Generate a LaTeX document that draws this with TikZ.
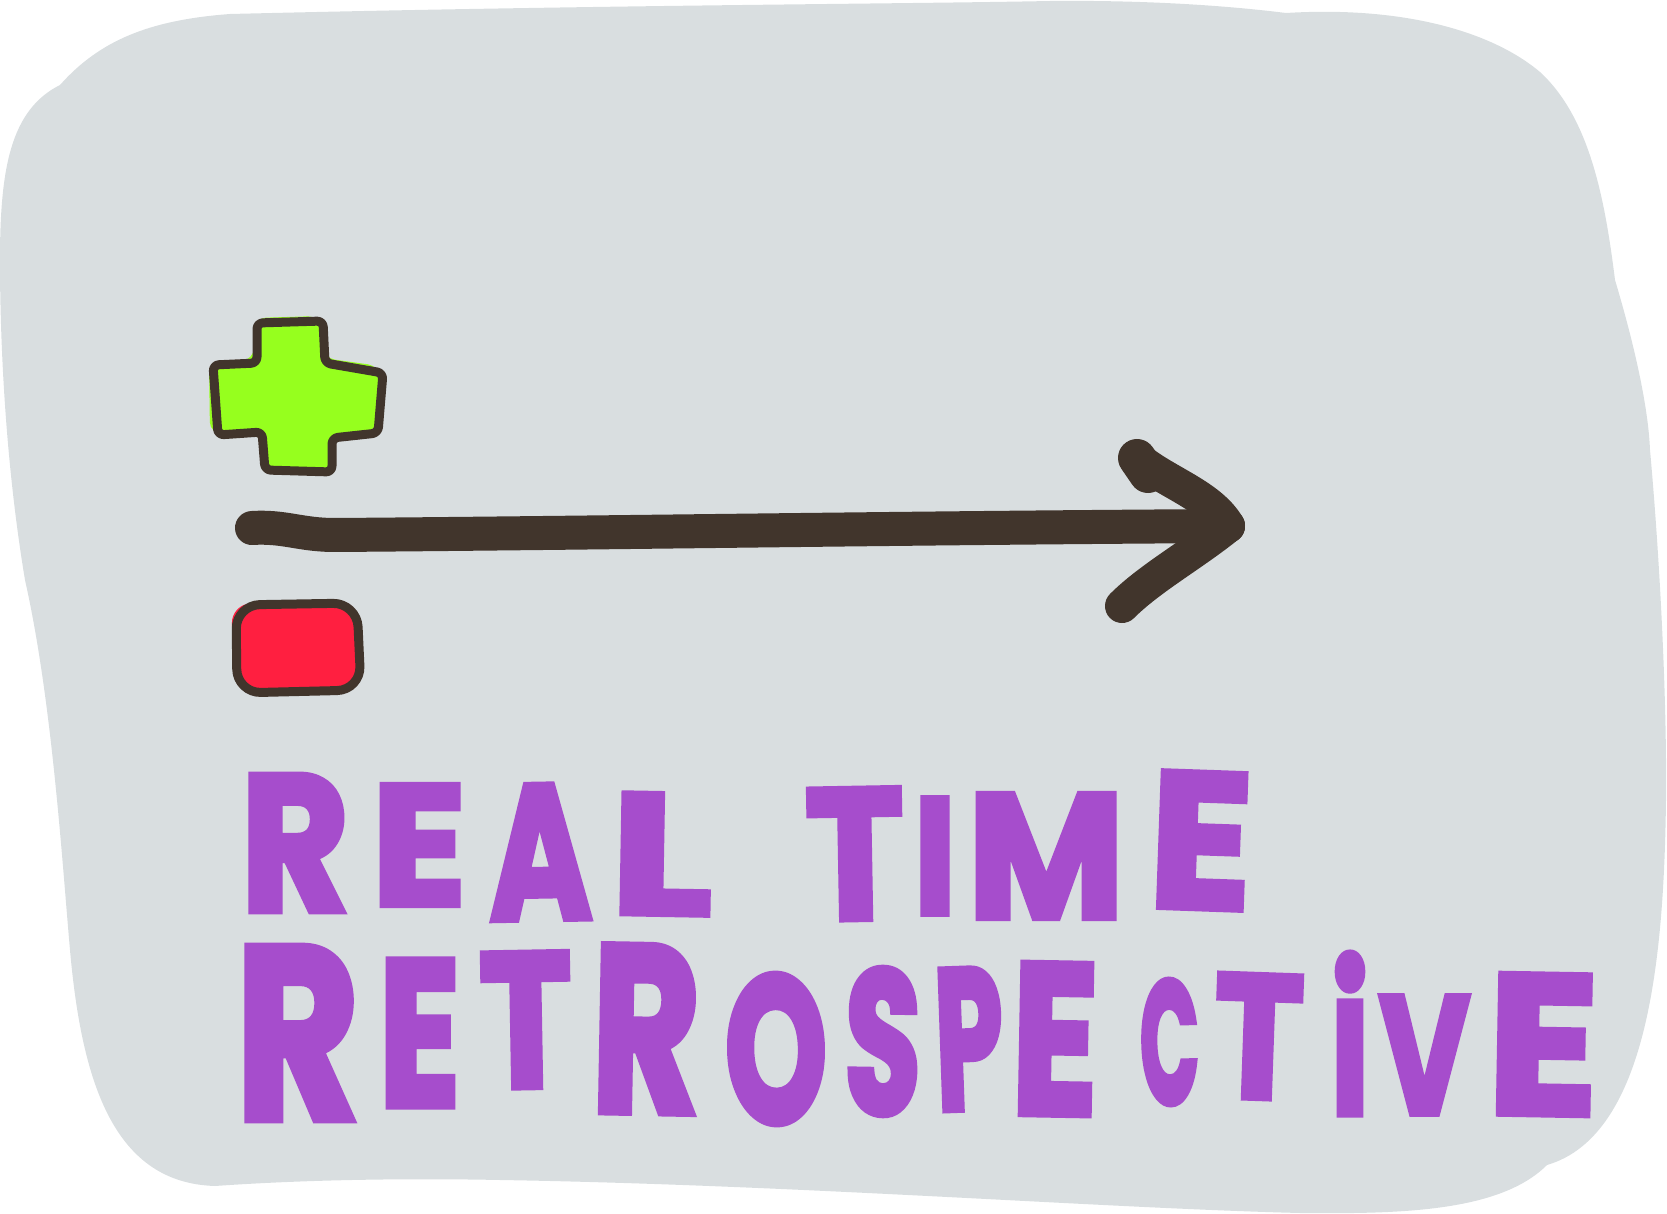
\documentclass[tikz,border=0pt]{standalone}
\usepackage{fontspec}
\newfontfamily\handfont{Poppins}[BoldFeatures={FakeBold=3.5}]
\usepackage{graphicx}
\definecolor{bgblob}{HTML}{D9DEE0}
\definecolor{plusgreen}{HTML}{96FF1E}
\definecolor{minusred}{HTML}{FF1F40}
\definecolor{inkdark}{HTML}{41352C}
\definecolor{txtpurple}{HTML}{A64DCC}
\newlength\upx
\setlength\upx{0.5pt}
\newcommand\Ltr[7]{\node[ltr,rotate=#7] (#1) at (#2+#4/2,#3+#5/2) {\resizebox{#4\upx}{#5\upx}{\handfont\bfseries #6}};}
\tikzset{
  ltr/.style={inner sep=0pt,outer sep=0pt,anchor=center,text=txtpurple},
  outline/.style={draw=inkdark,line width=4.5pt,line join=round,rounded corners=3pt},
  stroke/.style={draw=inkdark,line width=17pt,line cap=round,line join=round},
}
\begin{document}
\begin{tikzpicture}[x=0.5pt,y=-0.5pt]
\useasboundingbox (0,0) rectangle (1667,1214);
% background blob
\fill[bgblob] (60,85) .. controls (100,40) and (150,20) .. (230,14)
  .. controls (600,5) and (900,4) .. (1050,1)
  .. controls (1150,0) and (1230,6) .. (1286,13)
  .. controls (1400,6) and (1490,30) .. (1540,72)
  .. controls (1590,118) and (1605,200) .. (1615,280)
  .. controls (1630,330) and (1648,400) .. (1650,450)
  .. controls (1660,560) and (1667,700) .. (1666,800)
  .. controls (1664,950) and (1650,1135) .. (1547,1165)
  .. controls (1500,1212) and (1400,1214) .. (1300,1213)
  .. controls (1100,1208) and (800,1185) .. (500,1180)
  .. controls (400,1178) and (300,1180) .. (215,1186)
  .. controls (115,1183) and (82,1085) .. (70,950)
  .. controls (62,860) and (52,700) .. (25,580)
  .. controls (5,460) and (0,340) .. (0,260)
  .. controls (0,170) and (10,110) .. (60,85) -- cycle;
% plus sign
\fill[plusgreen,rounded corners=6pt] (254,318) -- (320,316) -- (323,358) -- (380,366)
  -- (378,430) -- (330,436) -- (330,472) -- (262,472) -- (260,432) -- (210,434)
  -- (209,362) -- (254,360) -- cycle;
\draw[outline] (257,323) -- (323,321) -- (325,363) -- (383,373) -- (378,433)
  -- (332,438) -- (332,472) -- (265,470) -- (262,432) -- (218,435) -- (213,365)
  -- (257,363) -- cycle;
% minus (red box)
\fill[minusred,rounded corners=10pt] (231,604) -- (357,600) -- (362,690) -- (235,694) -- cycle;
\draw[outline,rounded corners=12pt] (236,605) -- (357,603) -- (361,690) -- (237,693) -- cycle;
% arrow
\coordinate (aStart) at (252,528);
\coordinate (aTip) at (1228,526);
\coordinate (hUp) at (1137,458);
\coordinate (hLow) at (1122,606);
\draw[stroke] (aStart) .. controls (285,526) and (300,535) .. (335,535)
  .. controls (600,533) and (900,528) .. (aTip);
\draw[stroke] (hUp) .. controls (1165,482) and (1210,495) .. (aTip);
\draw[stroke,line width=19pt] (hUp) -- (1148,474);
\draw[stroke] (hLow) .. controls (1150,578) and (1192,555) .. (aTip);
% REAL TIME
\Ltr{r1}{241}{775}{108}{136}{R}{0}
\Ltr{e1}{372}{785}{94}{120}{E}{0}
\Ltr{a1}{489}{785}{102}{134}{A}{1}
\Ltr{l1}{611}{794}{101}{120}{L}{-1}
\Ltr{t1}{806}{789}{98}{130}{T}{1}
\Ltr{i1}{914}{798}{42}{116}{I}{0}
\Ltr{m1}{968}{794}{156}{124}{M}{0}
\Ltr{e2}{1150}{773}{102}{135}{E}{-2}
% RETROSPECTIVE
\Ltr{r2}{236}{947}{123}{172}{R}{0}
\Ltr{e3}{379}{960}{81}{146}{E}{0}
\Ltr{t2}{480}{953}{92}{134}{T}{1}
\Ltr{r3}{592}{946}{108}{166}{R}{-1}
\Ltr{o1}{725}{975}{102}{148}{O}{1}
\Ltr{s1}{845}{969}{76}{145}{S}{-1}
\Ltr{p1}{935}{969}{68}{140}{P}{2}
\Ltr{e4}{1012}{964}{86}{150}{E}{-1}
\Ltr{c1}{1140}{980}{59}{124}{C}{1}
\Ltr{t3}{1214}{975}{89}{123}{T}{-2}
\Ltr{i2}{1331}{953}{38}{161}{i}{0}
\Ltr{v1}{1379}{996}{91}{118}{V}{0}
\Ltr{e5}{1488}{975}{110}{139}{E}{-1}
\end{tikzpicture}
\end{document}
